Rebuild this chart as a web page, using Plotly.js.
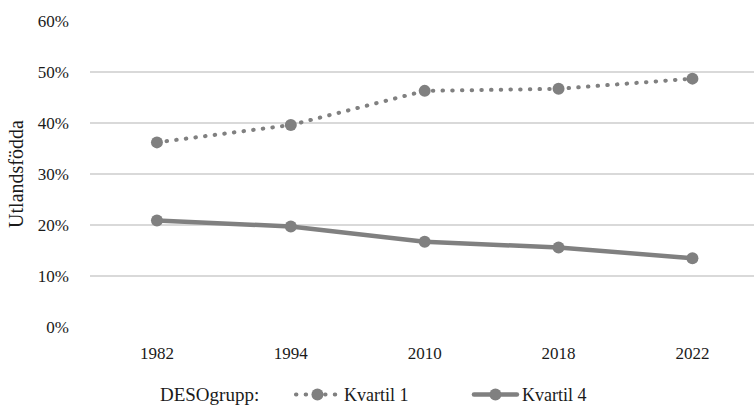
<!DOCTYPE html>
<html>
<head>
<meta charset="utf-8">
<script src="https://cdn.plot.ly/plotly-3.0.1.min.js"></script>
<style>
body{margin:0;padding:0;background:#fff;}
#chart{width:754px;height:409px;}
#chart path.js-line{stroke-linecap:round;}
</style>
</head>
<body>
<div id="chart"></div>
<script>
const years = ["1982", "1994", "2010", "2018", "2022"];
const kvartil1 = [0.362, 0.396, 0.463, 0.467, 0.487];
const kvartil4 = [0.209, 0.197, 0.167, 0.156, 0.135];
const yTickVals = [0, 0.1, 0.2, 0.3, 0.4, 0.5, 0.6];
const yTickText = ["0%", "10%", "20%", "30%", "40%", "50%", "60%"];
const grey = "#808080";
const fontFam = "Liberation Serif";
const txt = "#1a1a1a";

const traces = [
  {
    x: years, y: kvartil1, name: "Kvartil 1", type: "scatter", mode: "lines+markers",
    line: {color: grey, width: 4, dash: "0.5px,9.2px"},
    marker: {color: grey, size: 12}
  },
  {
    x: years, y: kvartil4, name: "Kvartil 4", type: "scatter", mode: "lines+markers",
    line: {color: grey, width: 4.5},
    marker: {color: grey, size: 12}
  }
];

const layout = {
  width: 754, height: 409,
  margin: {l: 90, r: 0, t: 21, b: 82},
  paper_bgcolor: "#fff", plot_bgcolor: "#fff",
  font: {family: fontFam, size: 17, color: txt},
  showlegend: true,
  xaxis: {
    type: "category", range: [-0.5, 4.46],
    showgrid: false, zeroline: false, showline: false,
    ticks: "", ticklabelstandoff: 14,
    tickfont: {size: 17, family: fontFam, color: txt}
  },
  yaxis: {
    range: [0, 0.6], tickvals: yTickVals, ticktext: yTickText,
    showgrid: true, gridcolor: "#d9d9d9", gridwidth: 1.2,
    zeroline: false, showline: false, ticks: "",
    ticklabelstandoff: 20,
    tickfont: {size: 17, family: fontFam, color: txt},
    title: {text: "Utlandsfödda", font: {size: 20, family: fontFam, color: txt}, standoff: 8}
  },
  legend: {
    orientation: "h", xref: "container", yref: "container",
    x: 0.2095, xanchor: "left", y: 0.035, yanchor: "middle",
    title: {text: "DESOgrupp:\u00a0\u00a0\u00a0\u00a0\u00a0", font: {size: 19, family: fontFam, color: txt}, side: "left"},
    font: {size: 18, family: fontFam, color: txt},
    itemwidth: 43,
    entrywidth: 120, entrywidthmode: "pixels", tracegroupgap: 0
  }
};

Plotly.newPlot("chart", traces, layout, {displayModeBar: false, staticPlot: true});
</script>
</body>
</html>
